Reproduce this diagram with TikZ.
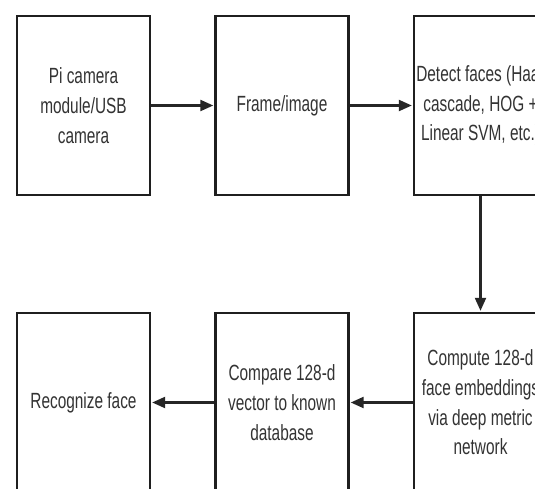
\documentclass[tikz,border=0pt]{standalone}
\usepackage{fontspec}
\newfontfamily\condfont[FakeStretch=0.70]{Liberation Sans}
\usetikzlibrary{arrows.meta}
\begin{document}
\begin{tikzpicture}[x=1pt,y=1pt,
  stepbox/.style={draw=black!88, line width=2.4pt, minimum width=133pt, minimum height=179pt, inner sep=0pt,
    text=black!80, align=center, font=\condfont\fontsize{22}{29.7}\selectfont},
  conn/.style={draw=black!85, line width=2.2pt, -{Triangle[length=13pt,width=11pt]}, shorten >=1pt}]
\useasboundingbox (0,0) rectangle (535,488);
\clip (0,0) rectangle (535,488);
\fill[white] (0,0) rectangle (535,488);
\node[stepbox] (cam) at (83.5,382.5) {Pi camera\\module/USB\\camera};
\node[stepbox] (frame) at (282,382.5) {Frame/image};
\node[stepbox] (detect) at (480.5,382.5) {Detect faces (Haar\\cascade, HOG +\\Linear SVM, etc.)};
\node[stepbox] (recog) at (83.5,85.5) {Recognize face};
\node[stepbox] (compare) at (282,85.5) {Compare 128-d\\vector to known\\database};
\node[stepbox] (compute) at (480.5,85.5) {Compute 128-d\\face embeddings\\via deep metric\\network};
\draw[conn] (cam) -- (frame);
\draw[conn] (frame) -- (detect);
\draw[conn] (detect) -- (compute);
\draw[conn] (compute) -- (compare);
\draw[conn] (compare) -- (recog);
\end{tikzpicture}
\end{document}
